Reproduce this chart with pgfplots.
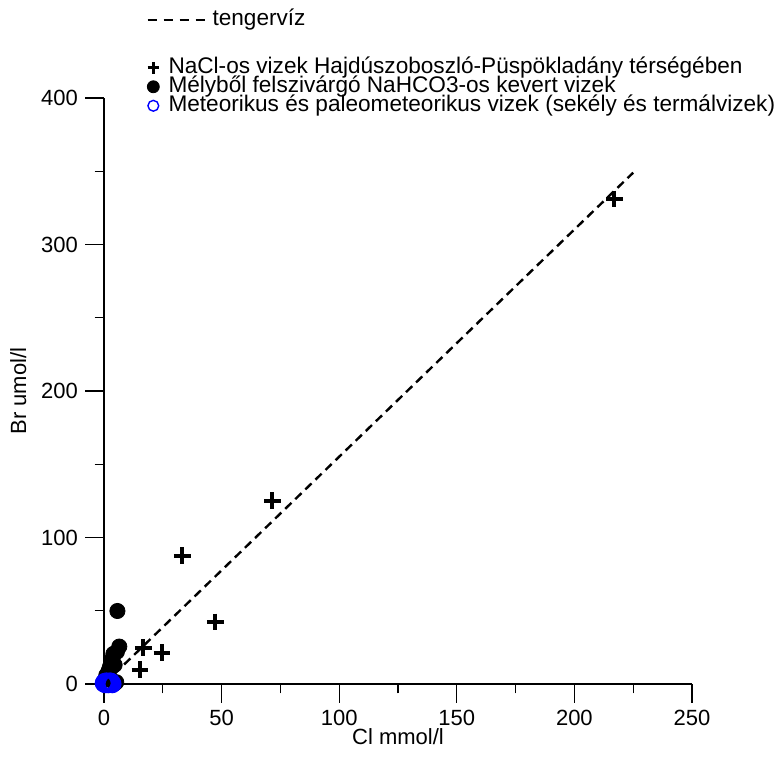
\documentclass[border=0pt]{standalone}
\usepackage{fontspec}
\setmainfont{Liberation Sans}
\usepackage{pgfplots}
\pgfplotsset{compat=1.18}
\pgfplotsset{
  dashlegend/.style={legend image code/.code={\draw[##1, overlay] (-2.9pt,0pt) -- (25.6pt,0pt);}},
  gaplegend/.style={legend image code/.code={\path[draw=none, fill=none] (0pt,-7.2pt) rectangle (0pt,7.2pt);}},
  marklegend/.style={legend image code/.code={\draw[##1] plot coordinates {(0pt,0pt)};}},
}

\begin{document}
\begin{tikzpicture}
\begin{axis}[
  scale only axis,
  width=294pt, height=293pt,
  xmin=0, xmax=250, ymin=0, ymax=400,
  axis lines=left,
  axis line style={-, line width=0.6pt},
  clip=false,
  xtick={0,50,...,250},
  ytick={0,100,...,400},
  minor x tick num=1,
  minor y tick num=1,
  tick align=outside,
  major tick length=9.5pt,
  minor tick length=4.75pt,
  tick style={line width=0.6pt, black},
  font=\fontsize{11}{13}\selectfont,
  /pgf/number format/assume math mode=true,
  xlabel={Cl mmol/l},
  ylabel={Br umol/l},
  every axis x label/.style={at={(axis description cs:0.5,-0.09)}, anchor=center},
  every axis y label/.style={at={(axis description cs:-0.146,0.5)}, anchor=center, rotate=90},
  legend cell align=left,
  legend style={at={(axis description cs:0.073,1.150)}, anchor=north west,
    draw=none, fill=none, inner sep=0pt, row sep=0pt, column sep=4.6pt,
    font=\fontsize{11.3}{13}\selectfont,
    nodes={inner sep=0pt, text height=7.5pt, text depth=2pt}},
]
% legend
\addlegendimage{black, line width=1.1pt, dash pattern=on 4.5pt off 3.5pt, dashlegend}
\addlegendentry{\hspace{22pt}tengervíz}
\addlegendimage{gaplegend}
\addlegendentry{}
\addlegendimage{only marks, black, mark=+, mark size=2.9pt, line width=1.5pt, marklegend}
\addlegendentry{NaCl-os vizek Hajdúszoboszló-Püspökladány térségében}
\addlegendimage{only marks, black, mark=*, mark size=3pt, marklegend}
\addlegendentry{Mélyből felszivárgó NaHCO3-os kevert vizek}
\addlegendimage{only marks, blue, mark=o, mark size=2.7pt, line width=0.7pt, marklegend}
\addlegendentry{Meteorikus és paleometeorikus vizek (sekély és termálvizek)}

% NaCl waters
\addplot[forget plot, only marks, black, mark=+, mark size=4.2pt, line width=2pt]
coordinates {
(217,331) (71.6,125) (33.3,87.5) (47.3,42.3) (16.7,24.8) (24.7,21.4) (15.3,9.6)
};
% NaHCO3 mixed waters
\addplot[forget plot, only marks, black, mark=*, mark size=3.8pt]
coordinates {
(5.7,49.8) (6.5,25.5) (5.5,22) (4,20.5) (3.5,17) (4.5,13) (2.5,11.5)
(2,9) (1,6) (0.5,3) (5.2,1.2) (4.5,0.3) (2.5,4)
};
% meteoric waters
\addplot[forget plot, only marks, blue, mark=o, mark size=4pt, line width=1.3pt]
coordinates {
(0,0.5) (0.8,0) (1.5,1) (2.2,0.3) (3,1.2) (3.5,0) (1,1.5) (2.6,1.5)
(0.3,1.2) (1.8,0) (0.5,0.2) (2.8,0.6)
};
% seawater line
\addplot[forget plot, black, line width=1.2pt, dash pattern=on 4.3pt off 2.7pt]
coordinates {(0,0) (225,349)};

\path (axis description cs:-0.1769,-0.1297) rectangle (axis description cs:1.1429,1.1672);
\end{axis}
\end{tikzpicture}
\end{document}
